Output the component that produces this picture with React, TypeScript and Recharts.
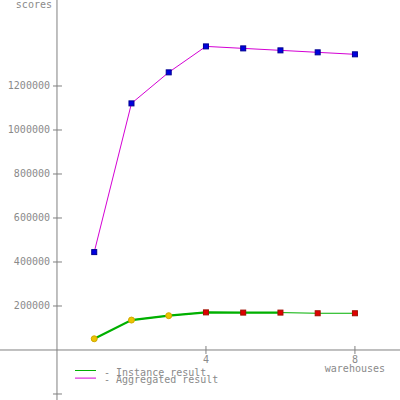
import React from 'react';
import { LineChart, Line, XAxis, YAxis, ReferenceLine, Legend } from 'recharts';

// ---- data ----
const WAREHOUSES = [1, 2, 3, 4, 5, 6, 7, 8];
const INSTANCE = [51000, 136000, 156000, 171000, 170000, 170000, 167000, 167000];
const AGGREGATED = [445000, 1121000, 1262000, 1380000, 1371000, 1362000, 1353000, 1344000];
const INSTANCE_THICK_COUNT = 6;
const Y_TICKS = [-200000, 200000, 400000, 600000, 800000, 1000000, 1200000];
const X_TICKS = [4, 8];
const X_LABEL = 'warehouses';
const Y_LABEL = 'scores';
const SERIES_NAMES = ['Instance result', 'Aggregated result'];

// ---- axis domains ----
const X_DOMAIN: [number, number] = [-1.53, 9.21];
const Y_DOMAIN: [number, number] = [-227300, 1590900];
const X_TICK_HALF = [-0.107, 0.134];
const Y_TICK_HALF = 18200;

const GRAY = '#808080';
const TEXT_GRAY = '#8a8a8a';
const FONT = "'DejaVu Sans Mono', monospace";
const GREEN = '#00b000';
const MAGENTA = '#d400d4';

const table = WAREHOUSES.map((x, i) => ({
  x,
  instance: INSTANCE[i],
  instanceThick: i < INSTANCE_THICK_COUNT ? INSTANCE[i] : null,
  aggregated: AGGREGATED[i],
}));

const instanceDot = (p: any) => {
  const { cx, cy, payload, index } = p;
  if (cx == null || cy == null) return <g key={`i${index}`} />;
  if (payload.x <= 3) {
    return <circle key={`i${index}`} cx={cx} cy={cy} r={3} fill="#ecc400" stroke="#d0a800" strokeWidth={1} />;
  }
  return <rect key={`i${index}`} x={cx - 2.5} y={cy - 2.5} width={5} height={5} fill="#e00000" stroke="#a01000" strokeWidth={1} />;
};

const aggDot = (p: any) => {
  const { cx, cy, index } = p;
  if (cx == null || cy == null) return <g key={`a${index}`} />;
  return <rect key={`a${index}`} x={cx - 2.5} y={cy - 2.5} width={5} height={5} fill="#0000e0" stroke="#000090" strokeWidth={1} />;
};

const txt = { fontFamily: FONT, fontSize: 10, fill: TEXT_GRAY } as const;

const legendContent = (props: any) => {
  const payload = (props.payload || [])
    .filter((e: any) => SERIES_NAMES.includes(e.value))
    .sort((a: any, b: any) => SERIES_NAMES.indexOf(a.value) - SERIES_NAMES.indexOf(b.value));
  return (
    <svg width={240} height={26}>
      {payload.map((e: any, i: number) => (
        <g key={e.value}>
          <line x1={5} x2={26} y1={8.5 + i * 7.6} y2={8.5 + i * 7.6} stroke={e.color} strokeWidth={1} />
          <text x={34} y={13.5 + i * 7.6} {...txt}>{`- ${e.value}`}</text>
        </g>
      ))}
    </svg>
  );
};

export default function App() {
  return (
    <div style={{ position: 'absolute', left: 0, top: 0 }}>
      <LineChart width={400} height={400} data={table} margin={{ top: 0, right: 0, bottom: 0, left: 0 }}>
        <XAxis dataKey="x" type="number" domain={X_DOMAIN} allowDataOverflow hide />
        <YAxis type="number" domain={Y_DOMAIN} allowDataOverflow hide />
        <ReferenceLine
          x={0}
          stroke={GRAY}
          strokeWidth={1}
          label={(p: any) => (
            <text x={p.viewBox.x - 5} y={8} textAnchor="end" {...txt}>{Y_LABEL}</text>
          )}
        />
        <ReferenceLine y={0} stroke={GRAY} strokeWidth={1} />
        {Y_TICKS.map((v) => (
          <ReferenceLine
            key={`yt${v}`}
            segment={[{ x: X_TICK_HALF[0], y: v }, { x: X_TICK_HALF[1], y: v }]}
            stroke={GRAY}
            strokeWidth={1}
            label={(p: any) =>
              v > 0 ? (
                <text x={p.viewBox.x - 3} y={p.viewBox.y + 3.5} textAnchor="end" {...txt}>{String(v)}</text>
              ) : <g />
            }
          />
        ))}
        {X_TICKS.map((t, i) => (
          <ReferenceLine
            key={`xt${t}`}
            segment={[{ x: t, y: -Y_TICK_HALF }, { x: t, y: Y_TICK_HALF }]}
            stroke={GRAY}
            strokeWidth={1}
            label={(p: any) => (
              <g>
                <text x={p.viewBox.x} y={p.viewBox.y + p.viewBox.height + 9.5} textAnchor="middle" {...txt}>{String(t)}</text>
                {i === X_TICKS.length - 1 ? (
                  <text x={p.viewBox.x} y={p.viewBox.y + p.viewBox.height + 18} textAnchor="middle" {...txt}>{X_LABEL}</text>
                ) : null}
              </g>
            )}
          />
        ))}
        <Line dataKey="instanceThick" stroke={GREEN} strokeWidth={2.2} dot={false} activeDot={false} isAnimationActive={false} legendType="none" connectNulls={false} />
        <Line dataKey="instance" name={SERIES_NAMES[0]} stroke={GREEN} strokeWidth={1} dot={instanceDot} activeDot={false} isAnimationActive={false} />
        <Line dataKey="aggregated" name={SERIES_NAMES[1]} stroke={MAGENTA} strokeWidth={1} dot={aggDot} activeDot={false} isAnimationActive={false} />
        <Legend
          layout="horizontal"
          align="center"
          verticalAlign="middle"
          content={legendContent}
          wrapperStyle={{ left: 70, top: 362, width: 240, height: 26 }}
        />
      </LineChart>
    </div>
  );
}
